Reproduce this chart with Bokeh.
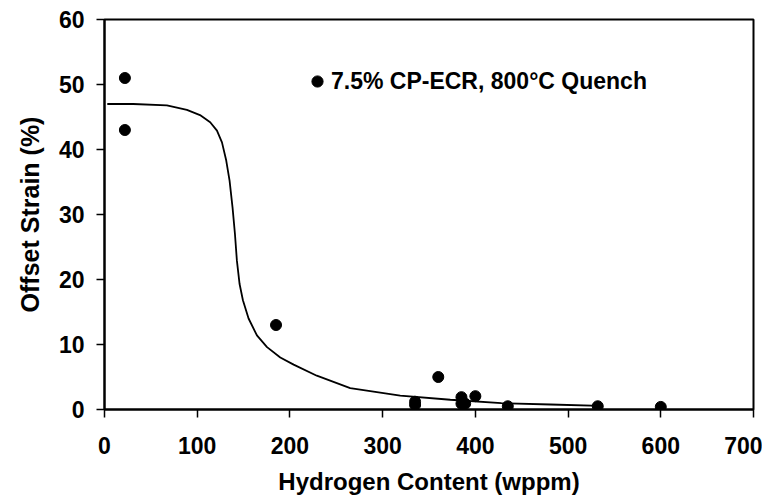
from bokeh.plotting import figure
from bokeh.models import Legend, LegendItem, Range1d, FixedTicker
from bokeh.embed import file_html
from bokeh.resources import INLINE

# Measured data points
hydrogen = [22, 22, 185, 335, 335, 360, 385, 385, 389, 400, 435, 532, 600]
strain = [51, 43, 13, 1.2, 0.7, 5.0, 1.9, 0.9, 0.9, 2.05, 0.5, 0.5, 0.4]

# Fitted trend curve
curve_x = [3, 31, 67.3, 88.9, 103, 114, 121.3, 126.7, 131.3, 134.9, 138.1, 140.7,
           142.8, 145.7, 149.3, 155.4, 164.4, 175.3, 189.6, 204, 229, 265,
           319, 373, 428, 481, 535]
curve_y = [47.0, 47.0, 46.8, 46.1, 45.3, 44.2, 42.9, 41.1, 38.3, 35.2, 31.1, 27.0,
           22.9, 19.3, 16.8, 14.0, 11.4, 9.6, 8.0, 6.9, 5.2, 3.3,
           2.15, 1.5, 0.97, 0.77, 0.57]

x_ticks = [0, 100, 200, 300, 400, 500, 600, 700]
y_ticks = [0, 10, 20, 30, 40, 50, 60]

series_label = "7.5% CP-ECR, 800°C Quench"
FONT = "Liberation Sans"

p = figure(width=762, height=497, output_backend="svg", toolbar_location=None,
           x_range=Range1d(0, 700), y_range=Range1d(0, 60),
           min_border_left=104, min_border_right=9, min_border_top=19, min_border_bottom=88)

p.xgrid.visible = False
p.ygrid.visible = False
p.outline_line_color = "black"
p.outline_line_width = 2
p.background_fill_color = "white"
p.border_fill_color = "white"

line = p.line(curve_x, curve_y, line_color="black", line_width=1.8)
pts = p.scatter(hydrogen, strain, size=11, marker="circle", fill_color="black", line_color="black")

for ax, ticks in ((p.xaxis[0], x_ticks), (p.yaxis[0], y_ticks)):
    ax.ticker = FixedTicker(ticks=ticks)
    ax.minor_tick_line_color = None
    ax.major_tick_in = 0
    ax.major_tick_out = 8
    ax.major_tick_line_width = 1.5
    ax.axis_line_width = 2
    ax.major_label_text_font = FONT
    ax.major_label_text_font_style = "bold"
    ax.major_label_text_font_size = "23px"
    ax.major_label_text_line_height = 1.0
    ax.major_label_text_color = "black"
    ax.axis_label_text_font = FONT
    ax.axis_label_text_font_style = "bold"
    ax.axis_label_text_font_size = "24px"
    ax.axis_label_text_line_height = 1.0
    ax.axis_label_text_color = "black"

p.xaxis[0].axis_label = "Hydrogen Content (wppm)"
p.yaxis[0].axis_label = "Offset Strain (%)"
p.yaxis[0].axis_label_text_font_size = "25px"
p.xaxis[0].major_label_standoff = 19
p.xaxis[0].axis_label_standoff = 11
p.yaxis[0].major_label_standoff = 12
p.yaxis[0].axis_label_standoff = 12

legend = Legend(items=[LegendItem(label=series_label, renderers=[pts])],
                location=(199, 314), orientation="vertical",
                border_line_color=None, background_fill_alpha=0,
                padding=0, margin=0, glyph_width=28, glyph_height=28,
                label_standoff=0,
                label_text_font=FONT, label_text_font_style="bold",
                label_text_font_size="23px", label_text_color="black")
p.add_layout(legend, "center")

open("out.html", "w").write(file_html(p, INLINE))
